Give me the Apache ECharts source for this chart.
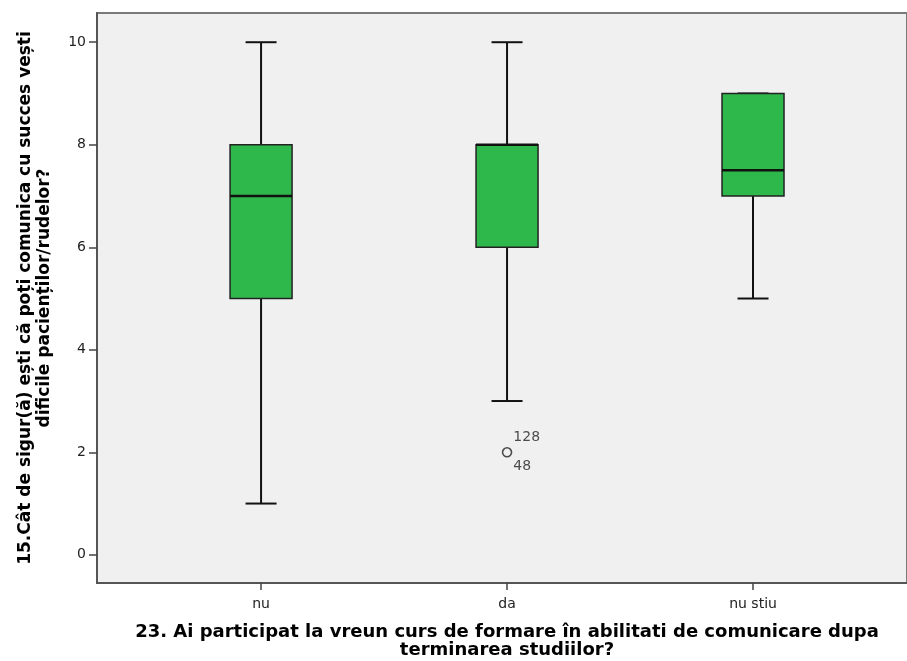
<!DOCTYPE html>
<html>
<head>
<meta charset="utf-8">
<script src="https://cdn.jsdelivr.net/npm/echarts@6/dist/echarts.min.js"></script>
<style>
  html, body { margin: 0; padding: 0; background: #fff; }
  #chart { width: 907px; height: 661px; }
</style>
</head>
<body>
<div id="chart"></div>
<script>
  // categorii si statistici pentru fiecare grup (min, Q1, mediana, Q3, max)
  const categories = ['nu', 'da', 'nu stiu']
  const minVals = [1, 3, 5]
  const q1Vals = [5, 6, 7]
  const medianVals = [7, 8, 7.5]
  const q3Vals = [8, 8, 9]
  const maxVals = [10, 10, 9]
  // valori extreme (grupul, valoarea, numarul cazului)
  const outlierGroup = [2]
  const outlierValue = [2]
  const outlierIds = [['128', '48']]
  const yTicks = [0, 2, 4, 6, 8, 10]

  const font = 'DejaVu Sans, Verdana, sans-serif'

  const boxData = categories.map((c, i) =>
    [i + 1, minVals[i], q1Vals[i], medianVals[i], q3Vals[i], maxVals[i]])
  const outlierData = outlierGroup.map((g, i) => ({
    value: [g, outlierValue[i]],
    ids: outlierIds[i]
  }))

  function renderBox(params, api) {
    const x = api.value(0)
    const lo = api.coord([x, api.value(1)])
    const q1 = api.coord([x, api.value(2)])
    const md = api.coord([x, api.value(3)])
    const q3 = api.coord([x, api.value(4)])
    const hi = api.coord([x, api.value(5)])
    const boxW = api.size([0.252, 0])[0]
    const capW = boxW / 2
    const cx = q1[0]
    const line = (x1, y1, x2, y2, w) => ({
      type: 'line',
      shape: { x1: x1, y1: y1, x2: x2, y2: y2 },
      style: { stroke: '#111', lineWidth: w }
    })
    return {
      type: 'group',
      children: [
        line(cx, hi[1], cx, q3[1], 2),
        line(cx, q1[1], cx, lo[1], 2),
        line(cx - capW / 2, hi[1], cx + capW / 2, hi[1], 2),
        line(cx - capW / 2, lo[1], cx + capW / 2, lo[1], 2),
        {
          type: 'rect',
          shape: { x: cx - boxW / 2, y: q3[1], width: boxW, height: q1[1] - q3[1] },
          style: { fill: '#2eb84b', stroke: '#222', lineWidth: 1.5 }
        },
        line(cx - boxW / 2, md[1], cx + boxW / 2, md[1], 2.5)
      ]
    }
  }

  const myChart = echarts.init(document.getElementById('chart'))
  myChart.setOption({
    animation: false,
    backgroundColor: '#ffffff',
    grid: {
      left: 97,
      top: 13,
      right: 0,
      bottom: 78,
      outerBoundsMode: 'none',
      show: true,
      backgroundColor: '#f0f0f0',
      borderColor: '#7a7a7a',
      borderWidth: 2
    },
    xAxis: {
      type: 'value',
      min: 0.333,
      max: 3.626,
      splitLine: { show: false },
      axisLine: { show: true, onZero: false, lineStyle: { color: '#555', width: 2 } },
      axisTick: { show: true, length: 7, customValues: [1, 2, 3], lineStyle: { color: '#444', width: 1.5 } },
      axisLabel: {
        customValues: [1, 2, 3],
        formatter: v => categories[Math.round(v) - 1],
        margin: 14,
        color: '#222',
        fontSize: 14,
        fontFamily: font
      },
      name: '23. Ai participat la vreun curs de formare în abilitati de comunicare dupa\nterminarea studiilor?',
      nameLocation: 'middle',
      nameGap: 40,
      nameTextStyle: {
        color: '#000',
        fontSize: 18,
        fontWeight: 'bold',
        fontFamily: font,
        lineHeight: 18,
        padding: [0, 0, 0, 10]
      }
    },
    yAxis: {
      type: 'value',
      min: -0.55,
      max: 10.57,
      splitLine: { show: false },
      axisLine: { show: true, onZero: false, lineStyle: { color: '#555', width: 2 } },
      axisTick: { show: true, length: 8, customValues: yTicks, lineStyle: { color: '#444', width: 1.5 } },
      axisLabel: {
        customValues: yTicks,
        margin: 11,
        color: '#222',
        fontSize: 14,
        fontFamily: font
      },
      name: '15.Cât de sigur(ă) ești că poți comunica cu succes vești\ndificile pacienților/rudelor?',
      nameLocation: 'middle',
      nameGap: 43,
      nameRotate: 90,
      nameTextStyle: {
        color: '#000',
        fontSize: 17,
        fontWeight: 'bold',
        fontFamily: font,
        lineHeight: 19
      }
    },
    series: [
      {
        type: 'custom',
        renderItem: renderBox,
        data: boxData,
        encode: { x: 0, y: [1, 2, 3, 4, 5] }
      },
      {
        type: 'scatter',
        data: outlierData,
        symbol: 'circle',
        symbolSize: 9,
        itemStyle: { color: '#f0f0f0', borderColor: '#222', borderWidth: 1.6 },
        label: {
          show: true,
          position: 'right',
          distance: 1,
          formatter: p => p.data.ids.join('\n'),
          color: '#222',
          fontSize: 14,
          fontFamily: font,
          lineHeight: 29
        }
      }
    ]
  })
</script>
</body>
</html>
